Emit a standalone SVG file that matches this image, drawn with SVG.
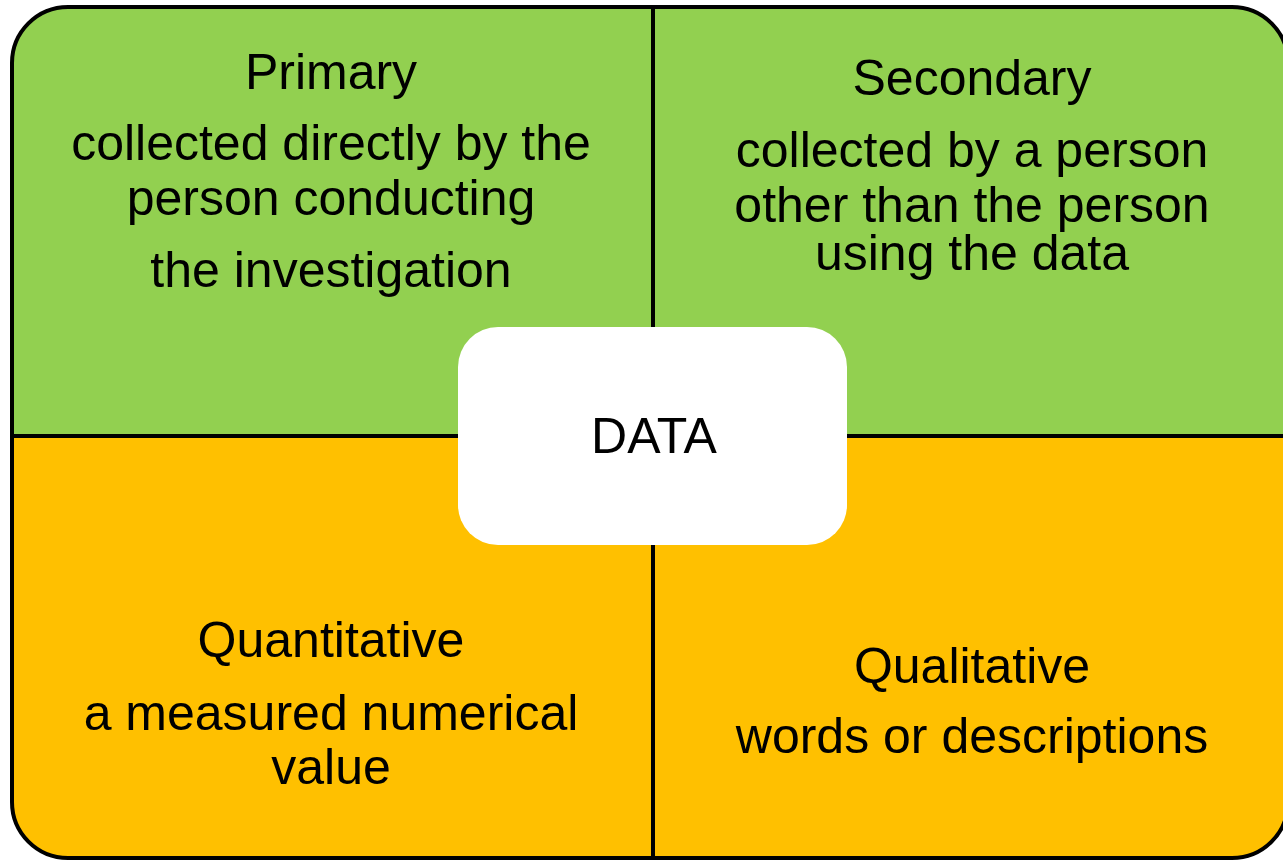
<svg xmlns="http://www.w3.org/2000/svg" width="1283" height="862" viewBox="0 0 1283 862">
  <style>
    .lbl { font-family: "Liberation Sans", Arial, sans-serif; font-size: 50px; fill: #000; text-anchor: middle; }
    .div { stroke: #000; stroke-width: 4; fill: none; }
    .green { fill: #92D050; }
    .amber { fill: #FFC000; }
  </style>
  <defs>
    <clipPath id="frameClip">
      <rect x="12" y="7" width="1276" height="851" rx="56" ry="56"/>
    </clipPath>
  </defs>

  <!-- quadrant fills, clipped to the rounded frame -->
  <g clip-path="url(#frameClip)">
    <g id="primary">
      <rect class="green" x="12" y="7" width="641" height="429"/>
      <text class="lbl" x="331" y="89">Primary</text>
      <text class="lbl" x="331" y="160">collected directly by the</text>
      <text class="lbl" x="331" y="215">person conducting</text>
      <text class="lbl" x="331" y="287">the investigation</text>
    </g>
    <g id="secondary">
      <rect class="green" x="653" y="7" width="635" height="429"/>
      <text class="lbl" x="972" y="95">Secondary</text>
      <text class="lbl" x="972" y="167">collected by a person</text>
      <text class="lbl" x="972" y="222">other than the person</text>
      <text class="lbl" x="972" y="270">using the data</text>
    </g>
    <g id="quantitative">
      <rect class="amber" x="12" y="436" width="641" height="422"/>
      <text class="lbl" x="331" y="657">Quantitative</text>
      <text class="lbl" x="331" y="730">a measured numerical</text>
      <text class="lbl" x="331" y="784">value</text>
    </g>
    <g id="qualitative">
      <rect class="amber" x="653" y="436" width="635" height="422"/>
      <text class="lbl" x="972" y="683">Qualitative</text>
      <text class="lbl" x="972" y="753">words or descriptions</text>
    </g>
  </g>

  <!-- dividing lines and frame outline -->
  <g id="connectors">
    <line class="div" x1="12" y1="436" x2="1288" y2="436"/>
    <line class="div" x1="653" y1="7" x2="653" y2="858"/>
    <rect class="div" x="12" y="7" width="1276" height="851" rx="56" ry="56"/>
  </g>

  <!-- central label -->
  <g id="data">
    <rect x="458" y="327" width="389" height="218" rx="40" ry="40" fill="#fff"/>
    <text class="lbl" x="654" y="453">DATA</text>
  </g>
</svg>
